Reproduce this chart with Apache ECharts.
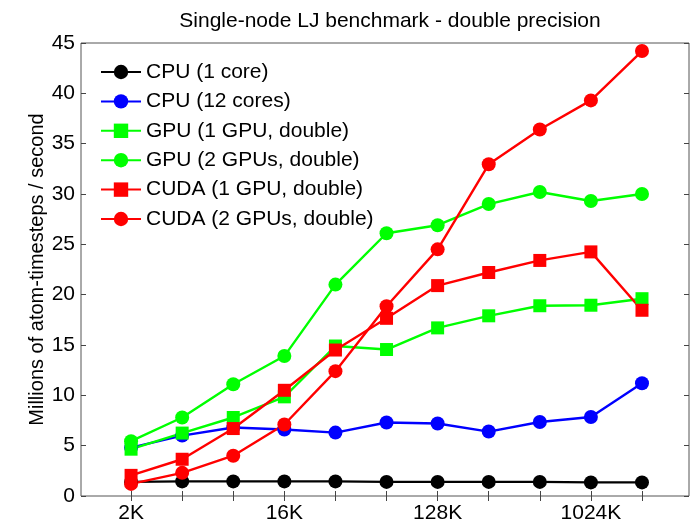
<!DOCTYPE html>
<html>
<head>
<meta charset="utf-8">
<title>Single-node LJ benchmark</title>
<script src="https://cdn.jsdelivr.net/npm/echarts@6/dist/echarts.min.js"></script>
<style>
html, body { margin: 0; padding: 0; background: #fff; }
#main { width: 692px; height: 526px; }
</style>
</head>
<body>
<div id="main"></div>
<script>
// problem sizes (thousands of atoms) and tick labels
var sizesK = [2, 4, 8, 16, 32, 64, 128, 256, 512, 1024, 2048];
var labelSizesK = [2, 16, 128, 1024];

// millions of atom-timesteps / second
var cpu1 = [1.4, 1.45, 1.45, 1.45, 1.45, 1.4, 1.4, 1.4, 1.4, 1.35, 1.35];
var cpu12 = [4.8, 6.0, 6.8, 6.6, 6.3, 7.3, 7.2, 6.4, 7.35, 7.85, 11.2];
var gpu1 = [4.65, 6.25, 7.8, 9.85, 14.9, 14.55, 16.7, 17.9, 18.9, 18.95, 19.6];
var gpu2 = [5.45, 7.8, 11.1, 13.9, 21.0, 26.1, 26.9, 29.0, 30.2, 29.3, 30.0];
var cuda1 = [2.05, 3.65, 6.7, 10.5, 14.5, 17.65, 20.9, 22.2, 23.4, 24.25, 18.45];
var cuda2 = [1.2, 2.3, 4.0, 7.1, 12.4, 18.85, 24.5, 32.95, 36.4, 39.3, 44.2];

var font = 'Liberation Sans, Arial, sans-serif';
var myChart = echarts.init(document.getElementById('main'));

// x is plotted as log2 of the size
function pts(arr) {
    return arr.map(function(v, i) { return [Math.log2(sizesK[i]), v]; });
}
var tickVals = sizesK.map(function(s) { return Math.log2(s); });
var labelVals = labelSizesK.map(function(s) { return Math.log2(s); });

function mk(name, data, color, symbol) {
    return {
        name: name,
        type: 'line',
        data: pts(data),
        symbol: symbol,
        symbolSize: symbol === 'rect' ? 13 : 14,
        lineStyle: { color: color, width: 2.4 },
        itemStyle: { color: color },
        emphasis: { disabled: true },
        animation: false
    };
}

var xBase = {
    type: 'value',
    min: 0.02,
    max: 11.92,
    splitLine: { show: false },
    axisLine: { show: false },
    axisTick: { show: true, inside: true, length: 5, lineStyle: { color: '#444' }, customValues: tickVals }
};
var yBase = {
    type: 'value',
    min: 0,
    max: 45,
    interval: 5,
    splitLine: { show: false },
    axisLine: { show: false },
    axisTick: { show: true, inside: true, length: 5, lineStyle: { color: '#444' } }
};

var option = {
    backgroundColor: '#fff',
    title: {
        text: 'Single-node LJ benchmark - double precision',
        left: 385,
        textAlign: 'center',
        top: 6,
        textStyle: { fontFamily: font, fontSize: 21, fontWeight: 'normal', color: '#000' }
    },
    grid: {
        left: 81, right: 3, top: 43, bottom: 30,
        show: true, borderColor: '#555', borderWidth: 1, backgroundColor: '#fff'
    },
    legend: {
        orient: 'vertical',
        left: 95,
        top: 55,
        itemWidth: 40,
        itemHeight: 18,
        itemGap: 5.4,
        textStyle: { fontFamily: font, fontSize: 21, color: '#000', lineHeight: 24 },
        data: ['CPU (1 core)', 'CPU (12 cores)', 'GPU (1 GPU, double)', 'GPU (2 GPUs, double)', 'CUDA (1 GPU, double)', 'CUDA (2 GPUs, double)']
    },
    xAxis: [
        Object.assign({}, xBase, {
            position: 'bottom',
            axisLabel: {
                customValues: labelVals,
                margin: 7,
                fontFamily: font, fontSize: 21, color: '#000',
                formatter: function(v) { return Math.round(Math.pow(2, v)) + 'K'; }
            }
        }),
        Object.assign({}, xBase, { position: 'top', axisLabel: { show: false } })
    ],
    yAxis: [
        Object.assign({}, yBase, {
            position: 'left',
            name: 'Millions of atom-timesteps / second',
            nameLocation: 'middle',
            nameGap: 34,
            nameMoveOverlap: false,
            nameTextStyle: { fontFamily: font, fontSize: 20, color: '#000' },
            axisLabel: { margin: 6, fontFamily: font, fontSize: 21, color: '#000' }
        }),
        Object.assign({}, yBase, { position: 'right', axisLabel: { show: false } })
    ],
    series: [
        mk('CPU (1 core)', cpu1, '#000000', 'circle'),
        mk('CPU (12 cores)', cpu12, '#0000ff', 'circle'),
        mk('GPU (1 GPU, double)', gpu1, '#00ff00', 'rect'),
        mk('GPU (2 GPUs, double)', gpu2, '#00ff00', 'circle'),
        mk('CUDA (1 GPU, double)', cuda1, '#ff0000', 'rect'),
        mk('CUDA (2 GPUs, double)', cuda2, '#ff0000', 'circle')
    ]
};

myChart.setOption(option);
</script>
</body>
</html>
